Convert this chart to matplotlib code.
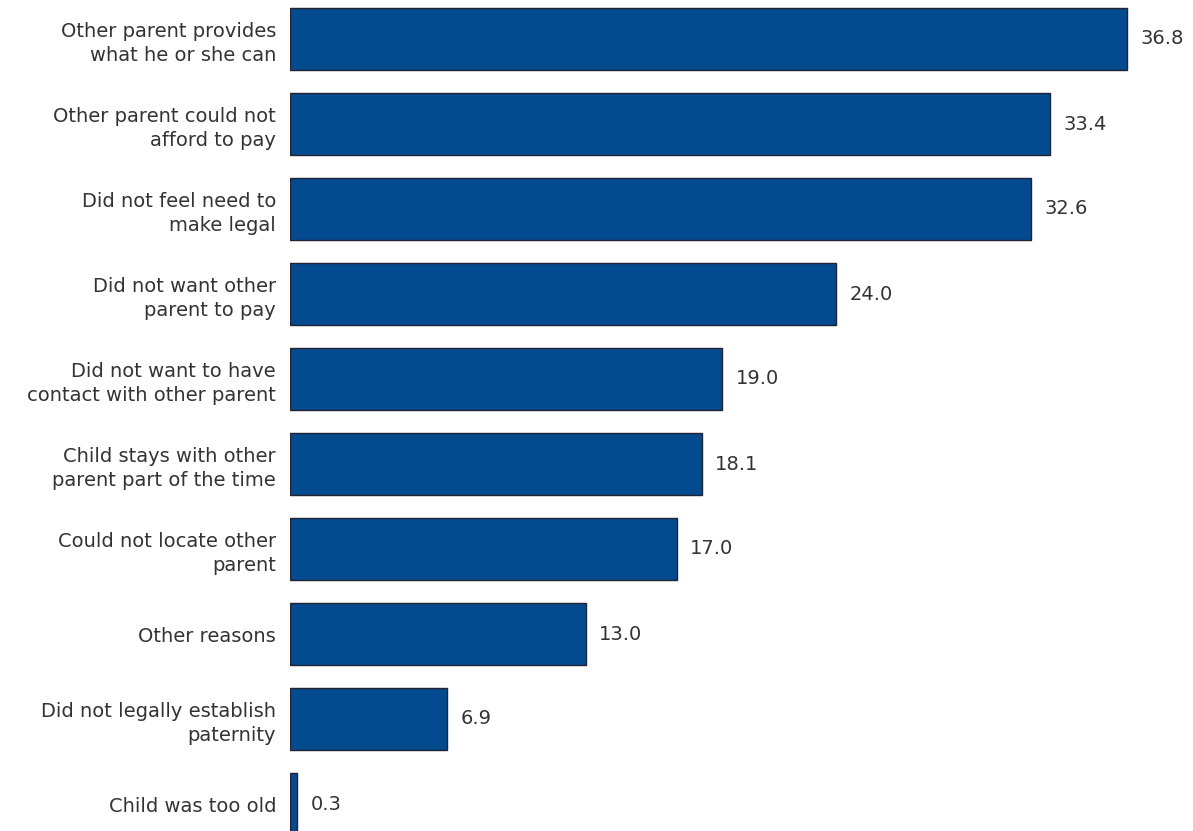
import matplotlib
matplotlib.use("Agg")
import matplotlib.pyplot as plt

categories = [
    "Other parent provides\nwhat he or she can",
    "Other parent could not\nafford to pay",
    "Did not feel need to\nmake legal",
    "Did not want other\nparent to pay",
    "Did not want to have\ncontact with other parent",
    "Child stays with other\nparent part of the time",
    "Could not locate other\nparent",
    "Other reasons",
    "Did not legally establish\npaternity",
    "Child was too old",
]
values = [36.8, 33.4, 32.6, 24.0, 19.0, 18.1, 17.0, 13.0, 6.9, 0.3]

W, H = 1193, 831
fig = plt.figure(figsize=(W / 100, H / 100), dpi=100)
ax = fig.add_axes([290 / W, (H - 846.5) / H, 909.6 / W, 850 / H])

ypos = list(range(len(categories)))
ax.barh(ypos, values, height=0.73, color="#034A8E", edgecolor="#222233", linewidth=1.0)
ax.set_xlim(0, 40)
ax.set_ylim(9.5, -0.5)
ax.set_yticks(ypos)
ax.set_yticklabels(categories, fontsize=14, color="#333333", family="DejaVu Sans",
                   linespacing=1.35)
ax.tick_params(axis="y", length=0, pad=10)
ax.set_xticks([])
for s in ax.spines.values():
    s.set_visible(False)
for y, v in zip(ypos, values):
    ax.text(v + 0.6, y, f"{v:.1f}", va="center", ha="left", fontsize=14, color="#333333")

fig.savefig("out.png", dpi=100)
